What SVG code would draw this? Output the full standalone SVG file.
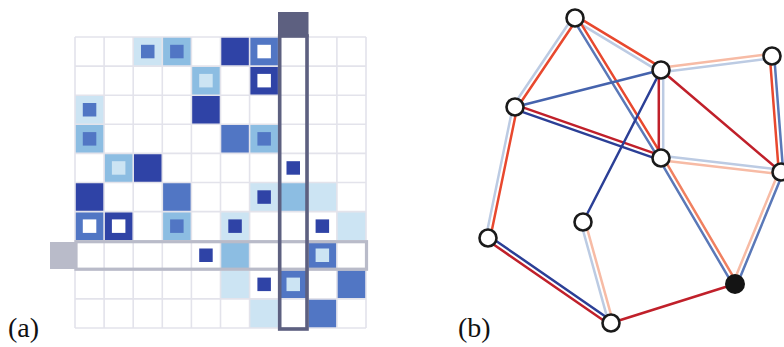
<svg xmlns="http://www.w3.org/2000/svg" width="784" height="347" viewBox="0 0 784 347">
<style>
.dk{fill:#2f43a6}.md{fill:#5176c4}.lt{fill:#8cbde2}.vl{fill:#cce4f3}.wh{fill:#fff}
.grid{fill:none;stroke:#e3e3eb;stroke-width:1.6}
.e{stroke-width:2.5;stroke-linecap:round;fill:none}
.red{stroke:#e8482e}.dred{stroke:#c0202a}.peach{stroke:#f7bba5}.orange{stroke:#f08060}
.dblue{stroke:#2b3f96}.mblue{stroke:#5a78b8}.lblue{stroke:#bccbe3}.cblue{stroke:#4563ad}
.node{fill:#fff;stroke:#1a1a1a;stroke-width:2.6}
.lbl{font-family:"Liberation Serif","Times New Roman",serif;font-size:28px;fill:#111}
</style>
<rect width="784" height="347" fill="#fff"/>
<g id="matrix">
<g id="cells">
<rect class="vl" x="133.2" y="37" width="29.1" height="29.1"/><rect class="md" x="141" y="44.8" width="13.5" height="13.5"/>
<rect class="lt" x="162.3" y="37" width="29.1" height="29.1"/><rect class="md" x="170.1" y="44.8" width="13.5" height="13.5"/>
<rect class="dk" x="220.5" y="37" width="29.1" height="29.1"/>
<rect class="md" x="249.6" y="37" width="29.1" height="29.1"/><rect class="wh" x="257.4" y="44.8" width="13.5" height="13.5"/>
<rect class="lt" x="191.4" y="66.1" width="29.1" height="29.1"/><rect class="vl" x="199.2" y="73.9" width="13.5" height="13.5"/>
<rect class="dk" x="249.6" y="66.1" width="29.1" height="29.1"/><rect class="wh" x="257.4" y="73.9" width="13.5" height="13.5"/>
<rect class="vl" x="75" y="95.2" width="29.1" height="29.1"/><rect class="md" x="82.8" y="103" width="13.5" height="13.5"/>
<rect class="dk" x="191.4" y="95.2" width="29.1" height="29.1"/>
<rect class="lt" x="75" y="124.3" width="29.1" height="29.1"/><rect class="md" x="82.8" y="132.1" width="13.5" height="13.5"/>
<rect class="md" x="220.5" y="124.3" width="29.1" height="29.1"/>
<rect class="lt" x="249.6" y="124.3" width="29.1" height="29.1"/><rect class="md" x="257.4" y="132.1" width="13.5" height="13.5"/>
<rect class="lt" x="104.1" y="153.4" width="29.1" height="29.1"/><rect class="vl" x="111.9" y="161.2" width="13.5" height="13.5"/>
<rect class="dk" x="133.2" y="153.4" width="29.1" height="29.1"/>
<rect class="dk" x="286.5" y="161.2" width="13.5" height="13.5"/>
<rect class="dk" x="75" y="182.5" width="29.1" height="29.1"/>
<rect class="md" x="162.3" y="182.5" width="29.1" height="29.1"/>
<rect class="vl" x="249.6" y="182.5" width="29.1" height="29.1"/><rect class="dk" x="257.4" y="190.3" width="13.5" height="13.5"/>
<rect class="lt" x="278.7" y="182.5" width="29.1" height="29.1"/>
<rect class="vl" x="307.8" y="182.5" width="29.1" height="29.1"/>
<rect class="md" x="75" y="211.6" width="29.1" height="29.1"/><rect class="wh" x="82.8" y="219.4" width="13.5" height="13.5"/>
<rect class="dk" x="104.1" y="211.6" width="29.1" height="29.1"/><rect class="wh" x="111.9" y="219.4" width="13.5" height="13.5"/>
<rect class="lt" x="162.3" y="211.6" width="29.1" height="29.1"/><rect class="md" x="170.1" y="219.4" width="13.5" height="13.5"/>
<rect class="vl" x="220.5" y="211.6" width="29.1" height="29.1"/><rect class="dk" x="228.3" y="219.4" width="13.5" height="13.5"/>
<rect class="dk" x="315.6" y="219.4" width="13.5" height="13.5"/>
<rect class="vl" x="336.9" y="211.6" width="29.1" height="29.1"/>
<rect class="dk" x="199.2" y="248.5" width="13.5" height="13.5"/>
<rect class="lt" x="220.5" y="240.7" width="29.1" height="29.1"/>
<rect class="md" x="307.8" y="240.7" width="29.1" height="29.1"/><rect class="vl" x="315.6" y="248.5" width="13.5" height="13.5"/>
<rect class="vl" x="220.5" y="269.8" width="29.1" height="29.1"/>
<rect class="dk" x="257.4" y="277.6" width="13.5" height="13.5"/>
<rect class="md" x="278.7" y="269.8" width="29.1" height="29.1"/><rect class="vl" x="286.5" y="277.6" width="13.5" height="13.5"/>
<rect class="md" x="336.9" y="269.8" width="29.1" height="29.1"/>
<rect class="vl" x="249.6" y="298.9" width="29.1" height="29.1"/>
<rect class="md" x="307.8" y="298.9" width="29.1" height="29.1"/>
</g>
<path class="grid" d="M75 37V328M104.1 37V328M133.2 37V328M162.3 37V328M191.4 37V328M220.5 37V328M249.6 37V328M278.7 37V328M307.8 37V328M336.9 37V328M366 37V328M75 37H366M75 66.1H366M75 95.2H366M75 124.3H366M75 153.4H366M75 182.5H366M75 211.6H366M75 240.7H366M75 269.8H366M75 298.9H366M75 328H366"/>
<g id="row-highlight">
<rect x="50" y="242" width="25" height="27" fill="#b9bbc9"/>
<rect x="76" y="241.7" width="290.5" height="27.5" fill="none" stroke="#b9bbc9" stroke-width="3.2"/>
</g>
<g id="col-highlight">
<rect x="278" y="12" width="30.5" height="25" fill="#5d6080"/>
<rect x="279.7" y="36" width="27.3" height="293" fill="none" stroke="#5d6080" stroke-width="3.6"/>
</g>
</g>
<g id="connectors">
<line class="e lblue" x1="573.18" y1="16.77" x2="513.18" y2="105.77"/>
<line class="e red" x1="576.82" y1="19.23" x2="516.82" y2="108.23"/>
<line class="e red" x1="576.14" y1="16.12" x2="662.14" y2="68.12"/>
<line class="e lblue" x1="573.86" y1="19.88" x2="659.86" y2="71.88"/>
<line class="e mblue" x1="573.13" y1="19.15" x2="659.13" y2="159.15"/>
<line class="e red" x1="576.87" y1="16.85" x2="662.87" y2="156.85"/>
<line class="e cblue" x1="515" y1="107" x2="661" y2="70"/>
<line class="e dred" x1="515.73" y1="104.92" x2="661.73" y2="155.92"/>
<line class="e dblue" x1="514.27" y1="109.08" x2="660.27" y2="160.08"/>
<line class="e lblue" x1="512.85" y1="106.56" x2="485.85" y2="237.56"/>
<line class="e red" x1="517.15" y1="107.44" x2="490.15" y2="238.44"/>
<line class="e dred" x1="658.8" y1="70" x2="658.8" y2="158"/>
<line class="e lblue" x1="663.2" y1="70" x2="663.2" y2="158"/>
<line class="e peach" x1="660.72" y1="67.82" x2="771.72" y2="53.82"/>
<line class="e lblue" x1="661.28" y1="72.18" x2="772.28" y2="58.18"/>
<line class="e dred" x1="661" y1="70" x2="781" y2="172"/>
<line class="e dblue" x1="661" y1="70" x2="583" y2="222"/>
<line class="e lblue" x1="661.25" y1="155.82" x2="781.25" y2="169.82"/>
<line class="e peach" x1="660.75" y1="160.19" x2="780.75" y2="174.19"/>
<line class="e mblue" x1="659.1" y1="159.11" x2="733.1" y2="285.11"/>
<line class="e orange" x1="662.9" y1="156.89" x2="736.9" y2="282.89"/>
<line class="e red" x1="769.81" y1="56.17" x2="778.81" y2="172.17"/>
<line class="e mblue" x1="774.19" y1="55.83" x2="783.19" y2="171.83"/>
<line class="e peach" x1="778.97" y1="171.16" x2="732.97" y2="283.16"/>
<line class="e mblue" x1="783.03" y1="172.84" x2="737.03" y2="284.84"/>
<line class="e lblue" x1="580.88" y1="222.59" x2="608.88" y2="323.59"/>
<line class="e peach" x1="585.12" y1="221.41" x2="613.12" y2="322.41"/>
<line class="e dblue" x1="489.25" y1="236.19" x2="612.25" y2="321.19"/>
<line class="e dred" x1="486.75" y1="239.81" x2="609.75" y2="324.81"/>
<line class="e dred" x1="735" y1="284" x2="611" y2="323"/>
</g>
<g id="nA"><circle class="node" cx="575" cy="18" r="8.5"/></g>
<g id="nB"><circle class="node" cx="661" cy="70" r="8.5"/></g>
<g id="nC"><circle class="node" cx="515" cy="107" r="8.5"/></g>
<g id="nD"><circle class="node" cx="661" cy="158" r="8.5"/></g>
<g id="nE1"><circle class="node" cx="772" cy="56" r="8.5"/></g>
<g id="nE2"><circle class="node" cx="781" cy="172" r="8.5"/></g>
<g id="nF"><circle class="node" cx="583" cy="222" r="8.5"/></g>
<g id="nG"><circle class="node" cx="488" cy="238" r="8.5"/></g>
<g id="nH"><circle cx="735" cy="284" r="10" fill="#141414"/></g>
<g id="nI"><circle class="node" cx="611" cy="323" r="8.5"/></g>
<text class="lbl" x="8" y="337">(a)</text>
<text class="lbl" x="458" y="337">(b)</text>
</svg>
